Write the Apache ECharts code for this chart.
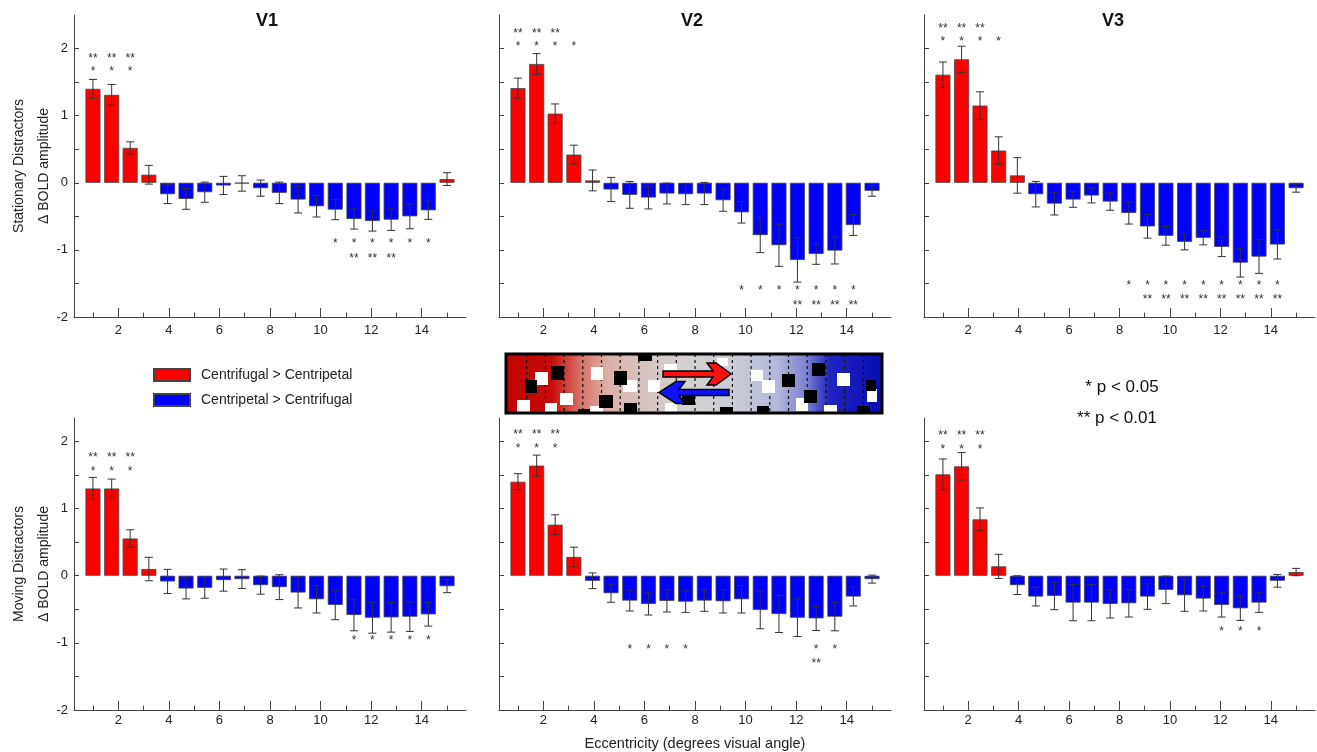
<!DOCTYPE html>
<html><head><meta charset="utf-8">
<script src="https://cdn.jsdelivr.net/npm/echarts@6/dist/echarts.min.js"></script>
<style>html,body{margin:0;padding:0;background:#fff}#c{width:1317px;height:752px}</style>
</head><body><div id="c"></div>
<script>
// ---------- DATA ----------
const eccentricity = [1.00, 1.74, 2.47, 3.21, 3.95, 4.68, 5.42, 6.16, 6.89, 7.63, 8.37, 9.11, 9.84, 10.58, 11.32, 12.05, 12.79, 13.53, 14.26, 15.00];
const xTickLabels = [2, 4, 6, 8, 10, 12, 14];
const xMinorTicks = [1, 3, 5, 7, 9, 11, 13, 15];
const yTickLabels = [-2, -1, 0, 1, 2];
const yTicks = [-2, -1.5, -1, -0.5, 0, 0.5, 1, 1.5, 2];
const areaNames = ['V1', 'V2', 'V3'];
const conditionNames = ['Stationary Distractors', 'Moving Distractors'];
const yName = 'Δ BOLD amplitude';
const xName = 'Eccentricity (degrees visual angle)';
const posName = 'Centrifugal > Centripetal';
const negName = 'Centripetal > Centrifugal';
const pLegend = ['* p < 0.05', '** p < 0.01'];

const v1Stationary    = [1.40, 1.31, 0.52, 0.12, -0.17, -0.24, -0.14, -0.04, -0.01, -0.08, -0.15, -0.25, -0.35, -0.40, -0.54, -0.57, -0.55, -0.50, -0.41, 0.055];
const v1StationaryErr = [0.14, 0.155, 0.09, 0.14, 0.14, 0.155, 0.15, 0.135, 0.115, 0.12, 0.16, 0.20, 0.16, 0.15, 0.15, 0.15, 0.16, 0.185, 0.135, 0.095];
const v1StationaryP05 = [0, 1, 2, 13, 14, 15, 16, 17, 18];
const v1StationaryP01 = [0, 1, 2, 14, 15, 16];

const v2Stationary    = [1.41, 1.77, 1.03, 0.42, 0.035, -0.10, -0.18, -0.22, -0.16, -0.17, -0.16, -0.26, -0.44, -0.78, -0.93, -1.15, -1.06, -1.01, -0.63, -0.12];
const v2StationaryErr = [0.15, 0.155, 0.145, 0.14, 0.155, 0.18, 0.20, 0.17, 0.155, 0.155, 0.165, 0.165, 0.16, 0.26, 0.315, 0.33, 0.155, 0.20, 0.155, 0.08];
const v2StationaryP05 = [0, 1, 2, 3, 12, 13, 14, 15, 16, 17, 18];
const v2StationaryP01 = [0, 1, 2, 15, 16, 17, 18];

const v3Stationary    = [1.61, 1.84, 1.15, 0.48, 0.11, -0.17, -0.31, -0.25, -0.19, -0.28, -0.45, -0.65, -0.79, -0.88, -0.82, -0.955, -1.19, -1.10, -0.92, -0.08];
const v3StationaryErr = [0.19, 0.195, 0.205, 0.205, 0.265, 0.19, 0.17, 0.115, 0.11, 0.13, 0.165, 0.175, 0.14, 0.12, 0.105, 0.145, 0.215, 0.25, 0.215, 0.06];
const v3StationaryP05 = [0, 1, 2, 3, 10, 11, 12, 13, 14, 15, 16, 17, 18];
const v3StationaryP01 = [0, 1, 2, 11, 12, 13, 14, 15, 16, 17, 18];

const v1Moving    = [1.30, 1.30, 0.555, 0.10, -0.085, -0.19, -0.18, -0.065, -0.05, -0.14, -0.17, -0.25, -0.35, -0.435, -0.585, -0.625, -0.62, -0.61, -0.575, -0.155];
const v1MovingErr = [0.165, 0.14, 0.13, 0.175, 0.18, 0.155, 0.155, 0.165, 0.14, 0.135, 0.185, 0.23, 0.205, 0.22, 0.235, 0.23, 0.22, 0.22, 0.175, 0.097];
const v1MovingP05 = [0, 1, 2, 14, 15, 16, 17, 18];
const v1MovingP01 = [0, 1, 2];

const v2Moving    = [1.40, 1.64, 0.76, 0.28, -0.075, -0.26, -0.37, -0.42, -0.375, -0.386, -0.37, -0.38, -0.35, -0.51, -0.57, -0.625, -0.635, -0.61, -0.31, -0.05];
const v2MovingErr = [0.12, 0.157, 0.148, 0.146, 0.117, 0.135, 0.155, 0.165, 0.165, 0.16, 0.16, 0.175, 0.205, 0.28, 0.275, 0.28, 0.18, 0.21, 0.14, 0.06];
const v2MovingP05 = [0, 1, 2, 6, 7, 8, 9, 16, 17];
const v2MovingP01 = [0, 1, 2, 16];

const v3Moving    = [1.51, 1.63, 0.84, 0.14, -0.14, -0.31, -0.30, -0.40, -0.40, -0.42, -0.41, -0.31, -0.21, -0.29, -0.34, -0.435, -0.485, -0.40, -0.075, 0.055];
const v3MovingErr = [0.23, 0.205, 0.17, 0.18, 0.14, 0.14, 0.205, 0.27, 0.27, 0.21, 0.205, 0.19, 0.205, 0.24, 0.185, 0.18, 0.18, 0.145, 0.095, 0.055];
const v3MovingP05 = [0, 1, 2, 15, 16, 17];
const v3MovingP01 = [0, 1, 2];

// ---------- LAYOUT / STYLE ----------
const FONT = "'Liberation Sans', Arial, Helvetica, sans-serif";
const AX = '#444';
const RED = '#ff0000', BLUE = '#0000ff';
const panelData = [
  [v1Stationary, v1StationaryErr, v1StationaryP05, v1StationaryP01],
  [v2Stationary, v2StationaryErr, v2StationaryP05, v2StationaryP01],
  [v3Stationary, v3StationaryErr, v3StationaryP05, v3StationaryP01],
  [v1Moving, v1MovingErr, v1MovingP05, v1MovingP01],
  [v2Moving, v2MovingErr, v2MovingP05, v2MovingP01],
  [v3Moving, v3MovingErr, v3MovingP05, v3MovingP01]
];
// rows: [** above, * above, * below, ** below] in data units
const layouts = [
  {left: 74,  top: 15,  width: 392, height: 302, yMax: 2.5,  labelMargin: 7, rows: [1.90, 1.70, -0.87, -1.08]},
  {left: 499, top: 15,  width: 392, height: 302, yMax: 2.5,  labelMargin: 7, rows: [2.27, 2.07, -1.57, -1.78]},
  {left: 924, top: 15,  width: 391, height: 302, yMax: 2.5,  labelMargin: 7, rows: [2.34, 2.14, -1.49, -1.69]},
  {left: 74,  top: 418, width: 392, height: 292, yMax: 2.35, labelMargin: 4, rows: [1.80, 1.60, -0.93, -1.14]},
  {left: 499, top: 418, width: 392, height: 292, yMax: 2.35, labelMargin: 4, rows: [2.14, 1.94, -1.05, -1.26]},
  {left: 924, top: 418, width: 391, height: 292, yMax: 2.35, labelMargin: 4, rows: [2.13, 1.93, -0.79, -1.00]}
];
const titleCenters = [267, 692, 1113];

const grids = [], xAxes = [], yAxes = [], series = [];

function errorRender(params, api) {
  const x = api.value(0);
  const lo = api.coord([x, api.value(1)]);
  const hi = api.coord([x, api.value(2)]);
  const w = 4;
  const st = {stroke: '#333', lineWidth: 1};
  return {type: 'group', children: [
    {type: 'line', shape: {x1: hi[0], y1: hi[1], x2: lo[0], y2: lo[1]}, style: st},
    {type: 'line', shape: {x1: hi[0] - w, y1: hi[1], x2: hi[0] + w, y2: hi[1]}, style: st},
    {type: 'line', shape: {x1: lo[0] - w, y1: lo[1], x2: lo[0] + w, y2: lo[1]}, style: st}
  ]};
}

layouts.forEach((L, i) => {
  const [vals, err, p05, p01] = panelData[i];
  const col = i % 3, row = Math.floor(i / 3);
  grids.push({left: L.left, top: L.top, width: L.width, height: L.height, containLabel: false, outerBoundsMode: 'none'});
  xAxes.push({
    gridIndex: i, type: 'value', min: 0.25, max: 15.75, position: 'bottom',
    axisLine: {show: true, onZero: false, lineStyle: {color: AX, width: 1}},
    axisTick: {show: true, inside: true, length: 9, customValues: xTickLabels, lineStyle: {color: AX}},
    axisLabel: {show: true, customValues: xTickLabels, margin: L.labelMargin, fontSize: 13, color: '#222', fontFamily: FONT},
    splitLine: {show: false},
    name: i === 4 ? xName : '', nameLocation: 'middle', nameGap: 26, nameMoveOverlap: false,
    nameTextStyle: {fontSize: 14.5, color: '#222', fontFamily: FONT}
  });
  yAxes.push({
    gridIndex: i, type: 'value', min: -2, max: L.yMax, position: 'left',
    axisLine: {show: true, onZero: false, lineStyle: {color: AX, width: 1}},
    axisTick: {show: true, inside: true, length: 5, customValues: yTicks, lineStyle: {color: AX}},
    axisLabel: {show: col === 0, customValues: yTickLabels, margin: 6, fontSize: 13, color: '#222', fontFamily: FONT},
    splitLine: {show: false},
    name: col === 0 ? conditionNames[row] + '\n' + yName : '', nameLocation: 'middle', nameRotate: 90,
    nameGap: 17, nameMoveOverlap: false,
    nameTextStyle: {fontSize: 14, lineHeight: 25, color: '#222', fontFamily: FONT}
  });

  const posData = [], negData = [];
  vals.forEach((v, k) => { (v >= 0 ? posData : negData).push([eccentricity[k], v]); });
  const barCommon = {type: 'bar', xAxisIndex: i, yAxisIndex: i, barWidth: 15, barGap: '-100%', silent: true};
  series.push(Object.assign({}, barCommon, {name: posName, data: posData,
    itemStyle: {color: RED, borderColor: '#444', borderWidth: 0.8}}));
  series.push(Object.assign({}, barCommon, {name: negName, data: negData,
    itemStyle: {color: BLUE, borderColor: '#444', borderWidth: 0.8}}));

  series.push({type: 'custom', xAxisIndex: i, yAxisIndex: i, z: 5, silent: true,
    renderItem: errorRender, encode: {x: 0, y: [1, 2]},
    data: vals.map((v, k) => [eccentricity[k], v - err[k], v + err[k]])});

  const starData = [], starText = [];
  p01.forEach(k => { starData.push([eccentricity[k], vals[k] >= 0 ? L.rows[0] : L.rows[3]]); starText.push('**'); });
  p05.forEach(k => { starData.push([eccentricity[k], vals[k] >= 0 ? L.rows[1] : L.rows[2]]); starText.push('*'); });
  series.push({type: 'custom', xAxisIndex: i, yAxisIndex: i, z: 6, silent: true,
    encode: {x: 0, y: 1}, data: starData,
    renderItem: (params, api) => {
      const p = api.coord([api.value(0), api.value(1)]);
      return {type: 'text', x: p[0], y: p[1] + 3, style: {
        text: starText[params.dataIndex], fontSize: 12, fontFamily: FONT, fill: '#333',
        align: 'center', verticalAlign: 'middle', textAlign: 'center', textVerticalAlign: 'middle'}};
    }});
});

// minor x ticks at odd eccentricities
layouts.forEach((L, i) => {
  xAxes.push({
    gridIndex: i, type: 'value', min: 0.25, max: 15.75, position: 'bottom',
    axisLine: {show: false, onZero: false},
    axisTick: {show: true, inside: true, length: 4.5, customValues: xMinorTicks, lineStyle: {color: AX}},
    axisLabel: {show: false}, splitLine: {show: false}
  });
});

// ---------- stimulus illustration ----------
const W = 376, H = 59;
const stimChildren = [
  {type: 'rect', shape: {x: 0, y: 0, width: W, height: H}, style: {fill: {
    type: 'linear', x: 0, y: 0, x2: 1, y2: 0, colorStops: [
      {offset: 0, color: '#c00404'}, {offset: 0.12, color: '#c80a08'}, {offset: 0.2, color: '#d87468'},
      {offset: 0.27, color: '#dcb0a8'}, {offset: 0.38, color: '#d4c6c4'}, {offset: 0.5, color: '#d2d2d2'},
      {offset: 0.62, color: '#c8cad6'}, {offset: 0.72, color: '#b4b8da'}, {offset: 0.8, color: '#7c80d0'},
      {offset: 0.86, color: '#2024c0'}, {offset: 1, color: '#0a0cb4'}]}}}
];
for (let k = 0; k < 19; k++) {
  const dx = 20.7 + k * 18.7;
  stimChildren.push({type: 'line', shape: {x1: dx, y1: 0, x2: dx, y2: H}, style: {stroke: '#111', lineWidth: 1.2, lineDash: [3, 3]}});
}
const whiteSq = [[11,46,13,12],[29,18,13,13],[39,49,12,9],[54,39,13,12],[85,13,12,13],[84,52,13,6],[117,26,14,12],[142,26,12,12],[158,10,13,8],[159,49,12,9],[211,4,11,8],[245,16,12,11],[256,26,13,13],[290,44,12,13],[318,51,13,7],[331,19,13,13],[361,35,10,13]];
const blackSq = [[45,12,13,14],[19,26,12,13],[108,17,13,14],[93,41,14,13],[118,49,13,9],[132,1,14,6],[176,41,13,10],[214,53,13,5],[251,52,12,6],[276,20,13,13],[298,36,13,13],[306,9,13,13],[351,52,13,6],[360,26,10,11],[72,55,12,3]];
whiteSq.forEach(s => stimChildren.push({type: 'rect', shape: {x: s[0], y: s[1], width: s[2], height: s[3]}, style: {fill: '#fff'}}));
blackSq.forEach(s => stimChildren.push({type: 'rect', shape: {x: s[0], y: s[1], width: s[2], height: s[3]}, style: {fill: '#000'}}));
stimChildren.push({type: 'polygon', shape: {points: [[157,17],[207,17],[201,9],[210,9],[225,20],[210,31],[201,31],[207,23],[157,23]]}, style: {fill: '#ff1010', stroke: '#000', lineWidth: 1.5}});
stimChildren.push({type: 'polygon', shape: {points: [[223,35.5],[173,35.5],[179,27.5],[170,27.5],[153,38.5],[170,49.5],[179,49.5],[173,41.5],[223,41.5]]}, style: {fill: '#1010ff', stroke: '#000', lineWidth: 1.5}});
stimChildren.push({type: 'rect', shape: {x: 0, y: 0, width: W, height: H}, style: {fill: 'none', stroke: '#000', lineWidth: 3}});

const option = {
  animation: false,
  backgroundColor: '#fff',
  title: areaNames.map((t, i) => ({text: t, left: titleCenters[i], top: 12, textAlign: 'center', padding: 0,
    textStyle: {fontSize: 18, fontWeight: 'bold', color: '#111', fontFamily: FONT}})),
  legend: {
    data: [posName, negName], orient: 'vertical', left: 153, top: 368, padding: 0, itemWidth: 36, itemHeight: 12,
    itemGap: 11, icon: 'rect', selectedMode: false,
    textStyle: {fontSize: 14, color: '#222', fontFamily: FONT, padding: [0, 0, 0, 6]}
  },
  grid: grids, xAxis: xAxes, yAxis: yAxes, series: series,
  graphic: [
    {type: 'group', x: 506, y: 354, children: stimChildren},
    {type: 'text', x: 1122, y: 387, style: {text: pLegend[0], fontSize: 17, fontFamily: FONT, fill: '#111',
      align: 'center', verticalAlign: 'middle', textAlign: 'center', textVerticalAlign: 'middle'}},
    {type: 'text', x: 1117, y: 418, style: {text: pLegend[1], fontSize: 17, fontFamily: FONT, fill: '#111',
      align: 'center', verticalAlign: 'middle', textAlign: 'center', textVerticalAlign: 'middle'}}
  ]
};
const chart = echarts.init(document.getElementById('c'), null, {renderer: 'canvas'});
chart.setOption(option);
</script></body></html>
